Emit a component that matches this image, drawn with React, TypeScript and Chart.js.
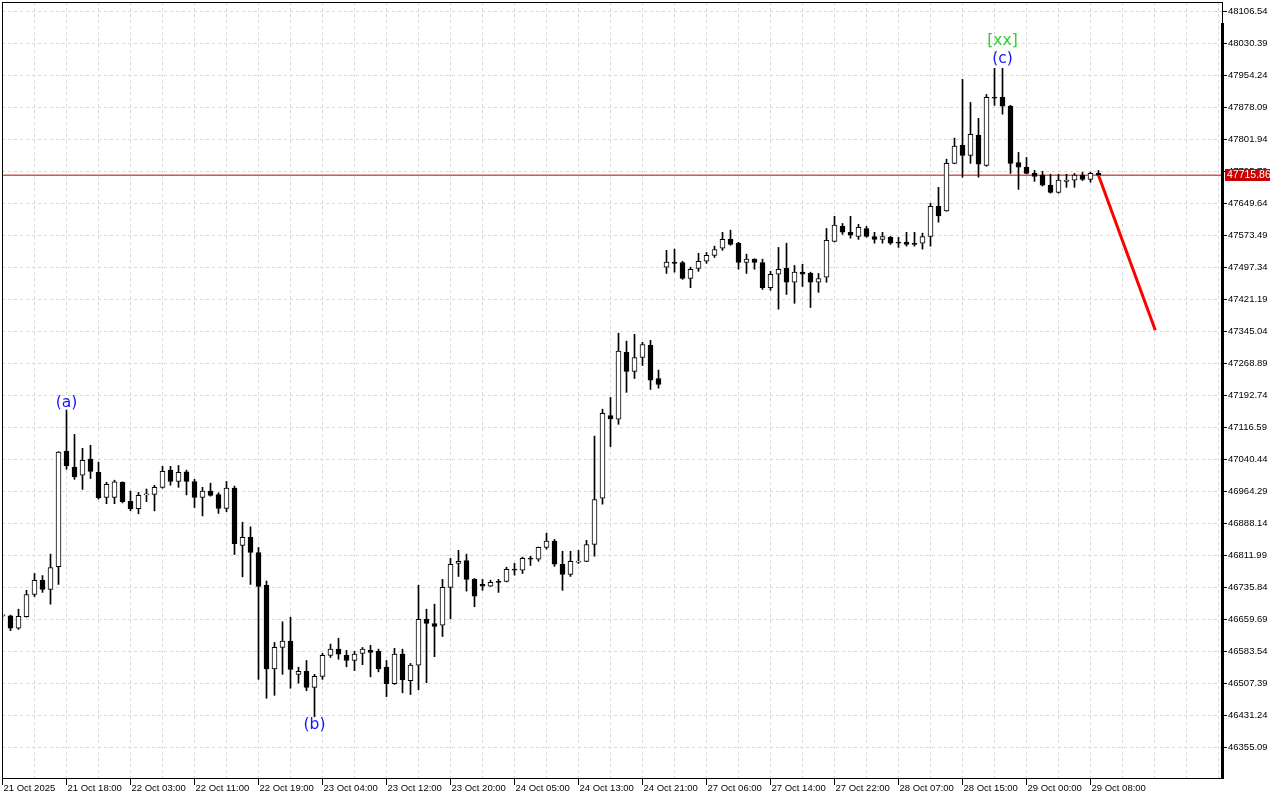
import React, { useEffect, useRef } from 'react';
import { Chart, registerables } from 'chart.js';

Chart.register(...registerables);

// ---- Candle data (hourly, US30-like index) ----
const OPEN = [
  46667, 46667, 46638, 46665, 46718, 46752, 46730, 46784, 47059, 47021,
  47002, 47040, 47009, 46949, 46949, 46985, 46940, 46922, 46955, 46956,
  46973, 47014, 46987, 47010, 46987, 46949, 46964, 46956, 46923, 46971,
  46835, 46854, 46818, 46740, 46541, 46592, 46607, 46528, 46535, 46497,
  46523, 46573, 46588, 46573, 46561, 46578, 46585, 46583, 46545, 46506,
  46576, 46513, 46550, 46659, 46649, 46645, 46735, 46792, 46799, 46754,
  46742, 46738, 46749, 46749, 46778, 46776, 46804, 46802, 46830, 46845,
  46790, 46766, 46795, 46797, 46837, 46947, 47144, 47135, 47294, 47249,
  47282, 47311, 47232, 47497, 47509, 47508, 47470, 47494, 47511, 47525,
  47542, 47563, 47554, 47508, 47516, 47508, 47448, 47480, 47494, 47461,
  47485, 47482, 47461, 47473, 47558, 47594, 47580, 47570, 47589, 47570,
  47563, 47568, 47556, 47556, 47554, 47554, 47570, 47642, 47631, 47744,
  47787, 47763, 47811, 47739, 47901, 47901, 47880, 47746, 47735, 47720,
  47716, 47692, 47675, 47701, 47704, 47716, 47706, 47720,
];
const HIGH = [
  46669, 46669, 46683, 46728, 46768, 46763, 46814, 47058, 47157, 47099,
  47066, 47073, 47033, 46985, 46990, 46986, 46964, 46961, 46969, 46978,
  47023, 47023, 47025, 47014, 46992, 46973, 46983, 46960, 46987, 46976,
  46890, 46879, 46830, 46750, 46604, 46653, 46664, 46545, 46561, 46528,
  46578, 46600, 46614, 46585, 46583, 46592, 46597, 46588, 46561, 46590,
  46588, 46554, 46740, 46683, 46695, 46754, 46804, 46823, 46814, 46756,
  46754, 46752, 46754, 46783, 46792, 46807, 46809, 46831, 46864, 46849,
  46821, 46821, 46823, 46847, 47095, 47159, 47187, 47340, 47321, 47337,
  47318, 47323, 47252, 47537, 47540, 47511, 47497, 47530, 47532, 47547,
  47580, 47585, 47556, 47528, 47517, 47516, 47487, 47544, 47554, 47501,
  47504, 47485, 47482, 47589, 47618, 47601, 47618, 47599, 47594, 47580,
  47580, 47570, 47568, 47580, 47580, 47578, 47649, 47687, 47754, 47804,
  47944, 47889, 47851, 47908, 47970, 47970, 47882, 47770, 47758, 47727,
  47725, 47718, 47718, 47718, 47720, 47723, 47723, 47727,
];
const LOW = [
  46664, 46632, 46635, 46664, 46713, 46723, 46695, 46742, 47016, 46992,
  46968, 46994, 46945, 46934, 46934, 46936, 46917, 46910, 46939, 46917,
  46971, 46978, 46973, 46955, 46925, 46905, 46952, 46911, 46915, 46813,
  46760, 46742, 46516, 46471, 46478, 46528, 46495, 46507, 46489, 46427,
  46516, 46568, 46564, 46546, 46537, 46551, 46522, 46534, 46475, 46504,
  46484, 46480, 46491, 46508, 46570, 46618, 46660, 46761, 46726, 46689,
  46728, 46737, 46723, 46748, 46764, 46768, 46787, 46797, 46826, 46785,
  46728, 46761, 46792, 46796, 46809, 46933, 47070, 47123, 47199, 47232,
  47263, 47206, 47209, 47482, 47485, 47468, 47448, 47487, 47506, 47520,
  47537, 47549, 47492, 47482, 47492, 47444, 47442, 47397, 47432, 47411,
  47451, 47401, 47437, 47461, 47557, 47575, 47566, 47563, 47568, 47554,
  47554, 47551, 47544, 47547, 47547, 47540, 47547, 47604, 47630, 47743,
  47711, 47744, 47711, 47737, 47882, 47861, 47720, 47682, 47719, 47701,
  47690, 47673, 47673, 47687, 47687, 47703, 47699, 47715,
];
const CLOSE = [
  46667, 46638, 46666, 46718, 46752, 46730, 46782, 47057, 47024, 46998,
  47037, 47011, 46948, 46980, 46986, 46939, 46922, 46954, 46957, 46973,
  47011, 46987, 47009, 46987, 46949, 46964, 46954, 46923, 46971, 46839,
  46854, 46818, 46737, 46541, 46592, 46607, 46540, 46535, 46497, 46523,
  46573, 46588, 46576, 46561, 46576, 46588, 46580, 46541, 46506, 46576,
  46515, 46550, 46659, 46649, 46642, 46735, 46790, 46797, 46754, 46714,
  46738, 46747, 46747, 46778, 46776, 46804, 46802, 46830, 46845, 46790,
  46766, 46797, 46797, 46837, 46944, 47149, 47136, 47297, 47249, 47282,
  47313, 47228, 47218, 47509, 47506, 47470, 47492, 47511, 47525, 47539,
  47563, 47551, 47508, 47516, 47508, 47448, 47480, 47492, 47461, 47485,
  47480, 47461, 47470, 47561, 47597, 47580, 47573, 47592, 47570, 47563,
  47570, 47554, 47554, 47551, 47551, 47570, 47642, 47619, 47744, 47785,
  47763, 47813, 47742, 47901, 47899, 47880, 47744, 47735, 47720, 47713,
  47692, 47675, 47704, 47704, 47716, 47706, 47720, 47715.86,
];

// ---- Axis labels ----
const X_TICK_INDEX = [0, 8, 16, 24, 32, 40, 48, 56, 64, 72, 80, 88, 96, 104, 112, 120, 128, 136];
const X_TICK_LABELS = [
  '21 Oct 2025', '21 Oct 18:00', '22 Oct 03:00', '22 Oct 11:00', '22 Oct 19:00',
  '23 Oct 04:00', '23 Oct 12:00', '23 Oct 20:00', '24 Oct 05:00', '24 Oct 13:00',
  '24 Oct 21:00', '27 Oct 06:00', '27 Oct 14:00', '27 Oct 22:00', '28 Oct 07:00',
  '28 Oct 15:00', '29 Oct 00:00', '29 Oct 08:00',
];
const Y_TICKS = [
  48106.54, 48030.39, 47954.24, 47878.09, 47801.94, 47725.79, 47649.64, 47573.49,
  47497.34, 47421.19, 47345.04, 47268.89, 47192.74, 47116.59, 47040.44, 46964.29,
  46888.14, 46811.99, 46735.84, 46659.69, 46583.54, 46507.39, 46431.24, 46355.09,
];

// ---- Current price and forecast ----
const LAST_PRICE = 47715.86;
const FORECAST_X = [137, 144.1];
const FORECAST_Y = [47715.86, 47347];

// ---- Wave labels ----
const WAVE_TEXT = ['(a)', '(b)', '(c)', '[xx]'];
const WAVE_INDEX = [8, 39, 125, 125];
const WAVE_PRICE = [47173, 46408, 47992, 48036];

// ---- view ----
const X_MIN = -0.0625;
const X_MAX = 152.4375;
const Y_MAX = 48127.96;
const Y_MIN = 46278.94;

const AXIS_FONT = { family: '"Liberation Sans", Arial, sans-serif', size: 9.5, lineHeight: 1.2 };
const GRID_COLOR = '#d9d9d9';
const BLUE = '#1414ff';
const GREEN = '#32cd32';

const overlayPlugin = {
  id: 'mtOverlay',
  afterDraw(chart: any) {
    const { ctx, chartArea: a, scales } = chart;
    const xs = scales.x;
    const ys = scales.y;
    ctx.save();
    // frame
    ctx.fillStyle = '#000';
    ctx.fillRect(a.left, a.top, a.right - a.left + 1, 1);
    ctx.fillRect(a.left, a.top, 1, a.bottom - a.top);
    ctx.fillRect(a.left, a.bottom - 1, a.right - a.left + 1, 1);
    ctx.fillRect(a.right, a.top, 1, 21);
    ctx.fillRect(a.right - 1, a.top + 21, 3, a.bottom - a.top - 21);

    // current price box
    const py = Math.round(ys.getPixelForValue(LAST_PRICE));
    ctx.fillStyle = '#c80000';
    ctx.fillRect(a.right + 3, py - 6, 45, 12);
    ctx.fillStyle = '#ffffff';
    ctx.font = '10.5px "Liberation Sans", Arial, sans-serif';
    ctx.textAlign = 'left';
    ctx.textBaseline = 'middle';
    ctx.fillText(LAST_PRICE.toFixed(2), a.right + 5, py + 0.5);

    // wave labels
    ctx.font = '15.5px "DejaVu Sans", sans-serif';
    ctx.textAlign = 'center';
    ctx.textBaseline = 'middle';
    WAVE_TEXT.forEach((t, k) => {
      ctx.fillStyle = t.startsWith('[') ? GREEN : BLUE;
      ctx.fillText(t, xs.getPixelForValue(WAVE_INDEX[k]), ys.getPixelForValue(WAVE_PRICE[k]));
    });
    ctx.restore();
  },
};

export default function App() {
  const ref = useRef<HTMLCanvasElement | null>(null);

  useEffect(() => {
    if (!ref.current) return;
    const idx = OPEN.map((_, i) => i);
    const gridX: number[] = [];
    for (let v = 0; v <= 152; v += 4) gridX.push(v);

    const chart = new Chart(ref.current, {
      type: 'bar',
      data: {
        datasets: [
          {
            type: 'line',
            data: FORECAST_X.map((x, k) => ({ x, y: FORECAST_Y[k] })),
            borderColor: '#ff0000',
            borderWidth: 3,
            pointRadius: 0,
            fill: false,
            tension: 0,
            order: 0,
          } as any,
          {
            type: 'bar',
            data: idx.map((i) => ({ x: i, y: [OPEN[i], CLOSE[i]] })),
            backgroundColor: idx.map((i) => (CLOSE[i] >= OPEN[i] ? '#ffffff' : '#000000')),
            borderColor: '#000000',
            borderWidth: 1,
            borderSkipped: false,
            barThickness: 5,
            minBarLength: 1,
            grouped: false,
            clip: 0,
            order: 1,
          } as any,
          {
            type: 'bar',
            data: idx.map((i) => ({ x: i, y: [LOW[i], HIGH[i]] })),
            backgroundColor: '#000000',
            borderWidth: 0,
            barThickness: 1,
            minBarLength: 1,
            grouped: false,
            clip: 0,
            order: 2,
          } as any,
          {
            type: 'line',
            data: [
              { x: X_MIN, y: LAST_PRICE },
              { x: X_MAX, y: LAST_PRICE },
            ],
            borderColor: '#c00000',
            borderWidth: 1,
            pointRadius: 0,
            fill: false,
            order: 3,
          } as any,
        ],
      },
      options: {
        responsive: false,
        animation: false,
        devicePixelRatio: 1,
        events: [],
        layout: { padding: { left: 2, top: 2, right: 0, bottom: 0 } },
        plugins: { legend: { display: false }, tooltip: { enabled: false } },
        scales: {
          x: {
            type: 'linear',
            min: X_MIN,
            max: X_MAX,
            bounds: 'data',
            offset: false,
            afterBuildTicks: (s: any) => {
              s.ticks = gridX.map((v) => ({ value: v }));
            },
            afterFit: (s: any) => {
              s.height = 21;
              s.paddingLeft = 0;
              s.paddingRight = 0;
              s.paddingTop = 0;
              s.paddingBottom = 0;
            },
            ticks: {
              autoSkip: false,
              maxRotation: 0,
              minRotation: 0,
              align: 'start',
              padding: -2,
              labelOffset: 1,
              color: '#000',
              font: AXIS_FONT,
              callback: (v: any) => {
                const k = X_TICK_INDEX.indexOf(Number(v));
                return k >= 0 ? X_TICK_LABELS[k] : '';
              },
            },
            grid: {
              offset: false,
              color: GRID_COLOR,
              lineWidth: 1,
              drawTicks: true,
              tickLength: 6,
              tickWidth: 1,
              tickColor: (c: any) =>
                c.tick && X_TICK_INDEX.indexOf(c.tick.value) >= 0 ? '#000' : 'rgba(0,0,0,0)',
            },
            border: { display: false, dash: [3, 3] },
          } as any,
          y: {
            type: 'linear',
            position: 'right',
            min: Y_MIN,
            max: Y_MAX,
            bounds: 'data',
            afterBuildTicks: (s: any) => {
              s.ticks = Y_TICKS.map((v) => ({ value: v }));
            },
            afterFit: (s: any) => {
              s.width = 58;
              s.paddingLeft = 0;
              s.paddingRight = 0;
              s.paddingTop = 0;
              s.paddingBottom = 0;
            },
            ticks: {
              autoSkip: false,
              padding: 1,
              color: '#000',
              font: AXIS_FONT,
              callback: (v: any) => Number(v).toFixed(2),
            },
            grid: {
              color: GRID_COLOR,
              lineWidth: 1,
              drawTicks: true,
              tickLength: 5,
              tickWidth: 1,
              tickColor: '#000',
            },
            border: { display: false, dash: [3, 3] },
          } as any,
        },
      } as any,
      plugins: [overlayPlugin],
    });
    return () => chart.destroy();
  }, []);

  return (
    <div style={{ position: 'fixed', left: 0, top: 0, width: 1280, height: 800, background: '#fff' }}>
      <canvas ref={ref} width={1280} height={800} style={{ display: 'block' }} />
    </div>
  );
}
